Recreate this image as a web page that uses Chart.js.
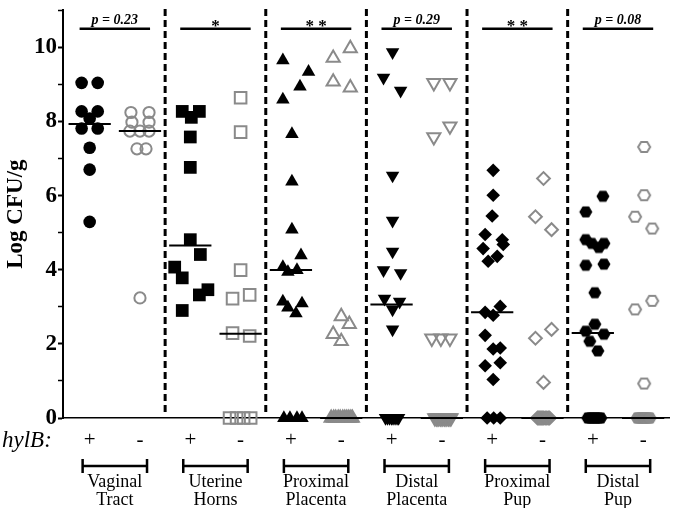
<!DOCTYPE html>
<html>
<head>
<meta charset="utf-8">
<script src="https://cdn.jsdelivr.net/npm/chart.js@4.4.0/dist/chart.umd.min.js"></script>
<style>
html, body { margin: 0; padding: 0; background: #fff; }
#wrap { width: 680px; height: 508px; position: relative; }
</style>
</head>
<body>
<div id="wrap"><canvas id="chart"></canvas></div>
<script>
// tissues, left to right; each has a hylB+ and a hylB- column
var tissues = [['Vaginal', 'Tract'], ['Uterine', 'Horns'], ['Proximal', 'Placenta'], ['Distal', 'Placenta'], ['Proximal', 'Pup'], ['Distal', 'Pup']];
var strains = ['+', '-'];
var pLabels = ['p = 0.23', '*', '* *', 'p = 0.29', '* *', 'p = 0.08'];
var yTicks = [0, 2, 4, 6, 8, 10];

// Log CFU/g per animal, with the sideways jitter (in column units)
var vagPos = [9.04, 9.04, 8.27, 8.27, 8.08, 7.81, 7.81, 7.29, 6.70, 5.29];
var vagPosJit = [-0.16, 0.16, -0.16, 0.16, 0, -0.16, 0.16, 0, 0, 0];
var vagNeg = [8.24, 8.24, 7.98, 7.98, 7.74, 7.74, 7.74, 7.26, 7.26, 3.24];
var vagNegJit = [-0.18, 0.18, -0.16, 0.18, -0.2, 0, 0.18, -0.06, 0.12, 0];

var utePos = [8.27, 8.27, 8.11, 7.58, 6.76, 4.81, 4.41, 4.07, 3.78, 3.46, 3.32, 2.90];
var utePosJit = [-0.16, 0.18, 0.02, 0, 0, 0, 0.2, -0.31, -0.16, 0.35, 0.18, -0.16];
var uteNeg = [8.64, 7.71, 3.99, 3.32, 3.22, 2.29, 2.21, 0, 0, 0, 0];
var uteNegJit = [0, 0, 0, 0.18, -0.16, -0.16, 0.18, -0.22, -0.08, 0.06, 0.2];

var pplPos = [9.65, 9.34, 8.94, 8.59, 7.66, 6.38, 5.08, 4.39, 4.07, 3.99, 3.94, 3.14, 3.09, 2.98, 2.82, 0, 0, 0, 0];
var pplPosJit = [-0.16, 0.35, 0.18, -0.16, 0.02, 0.02, 0.02, 0.2, -0.16, 0.12, -0.06, -0.16, 0.22, -0.06, 0.1, -0.14, -0.02, 0.12, 0.22];
var pplNeg = [9.97, 9.71, 9.07, 8.91, 2.74, 2.53, 2.26, 2.07, 0, 0, 0, 0, 0, 0, 0, 0, 0, 0, 0];
var pplNegJit = [0.18, -0.16, -0.16, 0.18, 0, 0.16, -0.16, 0, -0.2, -0.15, -0.11, -0.06, -0.02, 0.03, 0.07, 0.11, 0.15, 0.19, 0.22];

var dplPos = [9.87, 9.18, 8.83, 6.54, 5.32, 4.49, 3.99, 3.91, 3.22, 3.14, 2.93, 2.39, 0, 0, 0, 0, 0, 0, 0, 0];
var dplPosJit = [0.02, -0.16, 0.18, 0.02, 0.02, 0.02, -0.16, 0.18, -0.14, 0.16, 0.02, 0.02, -0.12, -0.08, -0.04, 0, 0.03, 0.07, 0.11, 0.14];
var dplNeg = [9.04, 9.04, 7.87, 7.58, 2.15, 2.15, 2.15, 0, 0, 0, 0, 0, 0, 0, 0, 0, 0, 0, 0, 0];
var dplNegJit = [-0.16, 0.16, 0.16, -0.16, -0.2, -0.02, 0.16, -0.14, -0.11, -0.08, -0.06, -0.03, 0, 0.02, 0.05, 0.08, 0.1, 0.13, 0.16, 0.18];

var ppuPos = [6.68, 6.01, 5.45, 4.95, 4.81, 4.68, 4.57, 4.36, 4.23, 3.01, 2.85, 2.77, 2.23, 1.89, 1.86, 1.49, 1.41, 1.04, 0, 0, 0];
var ppuPosJit = [0.02, 0.02, 0, -0.14, 0.2, 0.22, -0.18, 0.1, -0.08, 0.16, -0.14, 0.02, -0.14, 0.16, 0.02, 0.16, -0.14, 0.02, -0.1, 0.03, 0.16];
var ppuNeg = [6.46, 5.43, 5.08, 2.39, 2.15, 0.96, 0, 0, 0, 0, 0, 0, 0, 0, 0, 0, 0, 0];
var ppuNegJit = [0.02, -0.14, 0.18, 0.18, -0.14, 0.02, -0.1, -0.08, -0.06, -0.04, -0.02, 0, 0.02, 0.05, 0.07, 0.09, 0.12, 0.14];

var dpuPos = [5.98, 5.56, 4.81, 4.71, 4.60, 4.71, 4.12, 4.15, 3.38, 2.53, 2.34, 2.26, 2.07, 1.81, 0, 0, 0, 0, 0, 0, 0, 0];
var dpuPosJit = [0.2, -0.14, -0.14, -0.02, 0.12, 0.22, -0.14, 0.22, 0.04, 0.04, -0.14, 0.22, -0.06, 0.1, -0.1, -0.06, -0.03, 0.01, 0.05, 0.08, 0.12, 0.16];
var dpuNeg = [7.31, 6.01, 5.43, 5.11, 3.16, 2.93, 0.93, 0, 0, 0, 0, 0, 0, 0, 0, 0, 0, 0, 0];
var dpuNegJit = [0.02, 0.02, -0.16, 0.18, 0.18, -0.16, 0.02, -0.12, -0.1, -0.07, -0.05, -0.03, 0, 0.02, 0.04, 0.07, 0.09, 0.12, 0.14];

// median line per column
var medians = [7.93, 7.74, 4.65, 2.27, 3.99, 0, 3.06, 0, 2.85, 0, 2.29, 0];

var columns = [vagPos, vagNeg, utePos, uteNeg, pplPos, pplNeg, dplPos, dplNeg, ppuPos, ppuNeg, dpuPos, dpuNeg];
var jitters = [vagPosJit, vagNegJit, utePosJit, uteNegJit, pplPosJit, pplNegJit, dplPosJit, dplNegJit, ppuPosJit, ppuNegJit, dpuPosJit, dpuNegJit];

var gray = 'rgb(138,138,138)';
var serif = '"Liberation Serif", "Times New Roman", serif';

// hexagon marker: 'black' filled, 'open' gray outline, 'gray' gray filled
function hexagon(kind) {
    var c = document.createElement('canvas');
    c.width = 16;
    c.height = 14;
    var g = c.getContext('2d');
    var w = kind === 'open' ? 6 : 6.5, h = kind === 'open' ? 5 : 5.5;
    g.beginPath();
    g.moveTo(8 - w, 7);
    g.lineTo(8 - w / 2, 7 - h);
    g.lineTo(8 + w / 2, 7 - h);
    g.lineTo(8 + w, 7);
    g.lineTo(8 + w / 2, 7 + h);
    g.lineTo(8 - w / 2, 7 + h);
    g.closePath();
    if (kind === 'open') {
        g.strokeStyle = gray;
        g.lineWidth = 2;
        g.stroke();
    } else {
        g.fillStyle = kind === 'black' ? '#000' : gray;
        g.fill();
    }
    return c;
}
var hexBlack = hexagon('black'), hexOpen = hexagon('open'), hexGray = hexagon('gray');

var shapes = ['circle', 'rect', 'triangle', 'triangle', 'rectRot', 'hex'];
var radii = [6.3, 9, 7.8, 7.8, 6.8, 7];
var openRadii = [5.6, 8.2, 7.6, 7.6, 6.4, 7];

var datasets = [];

// dashed dividers between tissues
[1.5, 3.5, 5.5, 7.5, 9.5].forEach(function (d) {
    datasets.push({
        data: [{x: d, y: 0.16}, {x: d, y: 11.05}],
        showLine: true, pointRadius: 0, borderColor: '#000', borderWidth: 3,
        borderDash: [7, 4], clip: false, order: 0
    });
});

// significance bars
tissues.forEach(function (t, k) {
    datasets.push({
        data: [{x: 2 * k + 0.5 - 0.7, y: 10.5}, {x: 2 * k + 0.5 + 0.7, y: 10.5}],
        showLine: true, pointRadius: 0, borderColor: '#000', borderWidth: 2.5, clip: false, order: 0
    });
});

// medians
medians.forEach(function (m, i) {
    datasets.push({
        data: [{x: i - 0.42, y: m}, {x: i + 0.42, y: m}],
        showLine: true, pointRadius: 0, borderColor: '#000', borderWidth: 2, clip: false, order: 0
    });
});

columns.forEach(function (vals, i) {
    var k = Math.floor(i / 2);
    var filled = i % 2 === 0;
    // the open markers piled up at zero read as a solid gray block
    var piled = function (c) { return !filled && k >= 2 && c.raw && c.raw.y === 0; };
    var style = shapes[k] === 'hex'
        ? (filled ? hexBlack : function (c) { return piled(c) ? hexGray : hexOpen; })
        : shapes[k];
    datasets.push({
        data: vals.map(function (v, j) { return {x: i + jitters[i][j], y: v}; }),
        pointStyle: style,
        rotation: k === 3 ? 180 : 0,
        pointRadius: filled ? radii[k] : openRadii[k],
        pointBackgroundColor: filled ? '#000' : function (c) { return piled(c) ? gray : 'rgba(0,0,0,0)'; },
        pointBorderColor: filled ? '#000' : gray,
        pointBorderWidth: filled ? 0 : 2,
        showLine: false, clip: false, order: 1
    });
});

var annotations = {
    id: 'annotations',
    afterDraw: function (chart) {
        var ctx = chart.ctx;
        var xs = chart.scales.x, ys = chart.scales.y;
        var bottom = chart.chartArea.bottom;
        var barY = ys.getPixelForValue(10.5);
        ctx.save();
        ctx.fillStyle = '#000';
        ctx.strokeStyle = '#000';
        ctx.textAlign = 'center';
        ctx.textBaseline = 'alphabetic';

        pLabels.forEach(function (t, k) {
            var cx = xs.getPixelForValue(2 * k + 0.5);
            if (t.charAt(0) === 'p') {
                ctx.font = 'italic bold 14px ' + serif;
                ctx.fillText(t, cx, barY - 5);
            } else {
                ctx.font = 'bold 17px ' + serif;
                ctx.fillText(t, cx, barY + 2);
            }
        });

        ctx.font = 'italic 23px ' + serif;
        ctx.textAlign = 'left';
        ctx.fillText('hylB:', 2, bottom + 29);
        ctx.textAlign = 'center';
        ctx.font = '21px ' + serif;
        columns.forEach(function (c, i) {
            ctx.fillText(strains[i % 2], xs.getPixelForValue(i), bottom + 28);
        });

        ctx.lineWidth = 2.5;
        tissues.forEach(function (t, k) {
            var x0 = xs.getPixelForValue(2 * k + 0.5 - 0.64);
            var x1 = xs.getPixelForValue(2 * k + 0.5 + 0.64);
            var y = bottom + 48;
            ctx.beginPath();
            ctx.moveTo(x0, y);
            ctx.lineTo(x1, y);
            ctx.moveTo(x0, y - 7);
            ctx.lineTo(x0, y + 7);
            ctx.moveTo(x1, y - 7);
            ctx.lineTo(x1, y + 7);
            ctx.stroke();
            var cx = xs.getPixelForValue(2 * k + 0.5);
            ctx.font = '18px ' + serif;
            ctx.fillText(t[0], cx, bottom + 69);
            ctx.fillText(t[1], cx, bottom + 87);
        });
        ctx.restore();
    }
};

new Chart(document.getElementById('chart'), {
    type: 'scatter',
    data: {datasets: datasets},
    options: {
        responsive: true,
        maintainAspectRatio: false,
        animation: false,
        layout: {padding: {top: 4, right: 2, left: 0, bottom: 0}},
        plugins: {legend: {display: false}, tooltip: {enabled: false}},
        scales: {
            x: {
                type: 'linear', min: -0.53, max: 11.53,
                ticks: {display: false},
                grid: {display: false},
                border: {display: true, color: '#000', width: 1.5},
                afterFit: function (s) { s.height = 90; s.paddingLeft = 0; s.paddingRight = 0; }
            },
            y: {
                min: 0, max: 11,
                ticks: {
                    stepSize: 1, autoSkip: false, color: '#000', padding: 1,
                    font: {family: serif, size: 23, weight: 'bold'},
                    callback: function (v) { return yTicks.indexOf(v) >= 0 ? String(v) : ''; }
                },
                grid: {
                    drawOnChartArea: false, drawTicks: true, tickLength: 5,
                    tickColor: '#000',
                    tickWidth: function (c) { return c.tick && c.tick.value % 2 === 0 ? 2 : 1.5; }
                },
                border: {display: true, color: '#000', width: 2},
                title: {
                    display: true, text: 'Log CFU/g', color: '#000',
                    font: {family: serif, size: 23, weight: 'bold'}, padding: {top: 2, bottom: 0}
                },
                afterFit: function (s) { s.width = 63; s.paddingTop = 0; s.paddingBottom = 0; }
            }
        }
    },
    plugins: [annotations]
});
</script>
</body>
</html>
